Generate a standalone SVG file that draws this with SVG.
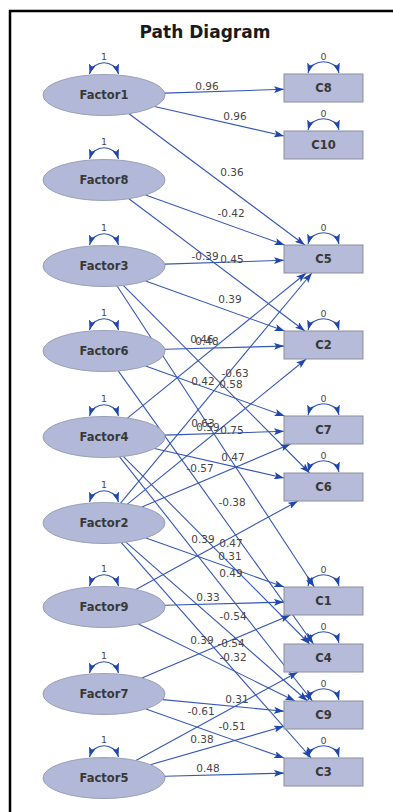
<svg xmlns="http://www.w3.org/2000/svg" width="393" height="812" viewBox="0 0 393 812">
  <style>
    .bg { fill: #ffffff; }
    .frame { fill: none; stroke: #000; stroke-width: 2.5; }
    .title { font-family: "DejaVu Sans", "Liberation Sans", sans-serif; font-weight: bold; font-size: 17px; fill: #1a1a1a; text-anchor: middle; }
    .latent { fill: #b2b8d7; stroke: #9aa0b8; stroke-width: 1; }
    .manifest { fill: #b5bbd8; stroke: #8e8f9c; stroke-width: 1; }
    .nlabel { font-family: "DejaVu Sans", "Liberation Sans", sans-serif; font-weight: bold; font-size: 11.5px; fill: #383838; text-anchor: middle; }
    .loop { fill: none; stroke: #2f55b0; stroke-width: 1.1; marker-start: url(#headStart); marker-end: url(#head); }
    .var { font-family: "DejaVu Sans", "Liberation Sans", sans-serif; font-size: 9.5px; fill: #4a4a4a; text-anchor: middle; }
    .path { fill: none; stroke: #3557b5; stroke-width: 1.1; marker-end: url(#head); }
    .coef { font-family: "DejaVu Sans", "Liberation Sans", sans-serif; font-size: 10.5px; fill: #454545; text-anchor: middle; }
  </style>
  <defs>
    <marker id="head" viewBox="0 0 10 7" refX="10" refY="3.5" markerWidth="10" markerHeight="7" markerUnits="userSpaceOnUse" orient="auto">
      <path d="M0,0 L10,3.5 L0,7 L2.2,3.5 z" fill="#1f46ad"/>
    </marker>
    <marker id="headStart" viewBox="0 0 10 7" refX="10" refY="3.5" markerWidth="10" markerHeight="7" markerUnits="userSpaceOnUse" orient="auto-start-reverse">
      <path d="M0,0 L10,3.5 L0,7 L2.2,3.5 z" fill="#1f46ad"/>
    </marker>
  </defs>

  <rect class="bg" x="0" y="0" width="393" height="812"/>
  <path class="frame" d="M10,812 V11 H393"/>
  <text class="title" x="205" y="38">Path Diagram</text>

  <!-- regression paths from factors to indicators -->
  <g id="connectors">
    <line class="path" x1="164.7" y1="93.1" x2="284" y2="89.3"/>
    <line class="path" x1="154.5" y1="106.5" x2="284" y2="136"/>
    <line class="path" x1="129" y1="113.7" x2="304.8" y2="245"/>
    <line class="path" x1="145.6" y1="195" x2="284.6" y2="245"/>
    <line class="path" x1="128.9" y1="198.7" x2="304.9" y2="331"/>
    <line class="path" x1="164.7" y1="264.1" x2="284" y2="260.3"/>
    <line class="path" x1="145.6" y1="281" x2="284.6" y2="331"/>
    <line class="path" x1="123.3" y1="285.4" x2="309.6" y2="473"/>
    <line class="path" x1="117.1" y1="286" x2="314.3" y2="587"/>
    <line class="path" x1="164.8" y1="349.3" x2="284" y2="346.1"/>
    <line class="path" x1="145.6" y1="366" x2="284.6" y2="416"/>
    <line class="path" x1="118.2" y1="370.9" x2="313.5" y2="644"/>
    <line class="path" x1="127.4" y1="418.1" x2="306.2" y2="273"/>
    <line class="path" x1="164.7" y1="435.1" x2="284" y2="431.3"/>
    <line class="path" x1="154.5" y1="448.5" x2="284" y2="478"/>
    <line class="path" x1="123.3" y1="456.4" x2="309.6" y2="644"/>
    <line class="path" x1="119.6" y1="456.8" x2="312.4" y2="701"/>
    <line class="path" x1="120.4" y1="503.3" x2="311.9" y2="273"/>
    <line class="path" x1="127.4" y1="504.1" x2="306.2" y2="359"/>
    <line class="path" x1="141.9" y1="506.9" x2="290.5" y2="444"/>
    <line class="path" x1="145.9" y1="537.9" x2="284.1" y2="587"/>
    <line class="path" x1="125.9" y1="542.1" x2="307.5" y2="701"/>
    <line class="path" x1="121.3" y1="542.7" x2="311.2" y2="758"/>
    <line class="path" x1="135.9" y1="589.5" x2="297.9" y2="501"/>
    <line class="path" x1="164.8" y1="605.3" x2="284" y2="602.1"/>
    <line class="path" x1="138.4" y1="623.9" x2="295.1" y2="701"/>
    <line class="path" x1="141.9" y1="677.9" x2="290.5" y2="615"/>
    <line class="path" x1="162.7" y1="699.6" x2="284" y2="711.2"/>
    <line class="path" x1="145.9" y1="708.9" x2="284.1" y2="758"/>
    <line class="path" x1="135.9" y1="760.5" x2="297.9" y2="672"/>
    <line class="path" x1="150.4" y1="764.7" x2="284" y2="726.3"/>
    <line class="path" x1="164.8" y1="776.3" x2="284" y2="773.1"/>
  </g>

  <!-- path coefficients -->
  <g id="coefficients">
    <text class="coef" x="207" y="90">0.96</text>
    <text class="coef" x="235" y="120">0.96</text>
    <text class="coef" x="232" y="176">0.36</text>
    <text class="coef" x="231" y="217">-0.42</text>
    <text class="coef" x="205" y="260">-0.39</text>
    <text class="coef" x="232" y="263">0.45</text>
    <text class="coef" x="230" y="303">0.39</text>
    <text class="coef" x="202" y="343">0.46</text>
    <text class="coef" x="207" y="345">0.48</text>
    <text class="coef" x="235" y="377">-0.63</text>
    <text class="coef" x="203" y="385">0.42</text>
    <text class="coef" x="231" y="388">0.58</text>
    <text class="coef" x="203" y="427">0.63</text>
    <text class="coef" x="208" y="431">0.59</text>
    <text class="coef" x="232" y="434">0.75</text>
    <text class="coef" x="233" y="461">0.47</text>
    <text class="coef" x="200" y="472">-0.57</text>
    <text class="coef" x="232" y="506">-0.38</text>
    <text class="coef" x="203" y="543">0.39</text>
    <text class="coef" x="231" y="547">0.47</text>
    <text class="coef" x="230" y="560">0.31</text>
    <text class="coef" x="231" y="577">0.49</text>
    <text class="coef" x="208" y="601">0.33</text>
    <text class="coef" x="233" y="620">-0.54</text>
    <text class="coef" x="202" y="644">0.39</text>
    <text class="coef" x="231" y="647">-0.54</text>
    <text class="coef" x="233" y="661">-0.32</text>
    <text class="coef" x="237" y="703">0.31</text>
    <text class="coef" x="201" y="715">-0.61</text>
    <text class="coef" x="232" y="730">-0.51</text>
    <text class="coef" x="202" y="743">0.38</text>
    <text class="coef" x="208" y="772">0.48</text>
  </g>

  <!-- latent factors -->
  <g id="Factor1">
    <ellipse class="latent" cx="104" cy="95" rx="61" ry="20.5"/>
    <text class="nlabel" x="104" y="99">Factor1</text>
    <path class="loop" d="M89.5,74 C94,59 114,59 118.5,74"/>
    <text class="var" x="104" y="60">1</text>
  </g>
  <g id="Factor8">
    <ellipse class="latent" cx="104" cy="180" rx="61" ry="20.5"/>
    <text class="nlabel" x="104" y="184">Factor8</text>
    <path class="loop" d="M89.5,159 C94,144 114,144 118.5,159"/>
    <text class="var" x="104" y="145">1</text>
  </g>
  <g id="Factor3">
    <ellipse class="latent" cx="104" cy="266" rx="61" ry="20.5"/>
    <text class="nlabel" x="104" y="270">Factor3</text>
    <path class="loop" d="M89.5,245 C94,230 114,230 118.5,245"/>
    <text class="var" x="104" y="231">1</text>
  </g>
  <g id="Factor6">
    <ellipse class="latent" cx="104" cy="351" rx="61" ry="20.5"/>
    <text class="nlabel" x="104" y="355">Factor6</text>
    <path class="loop" d="M89.5,330 C94,315 114,315 118.5,330"/>
    <text class="var" x="104" y="316">1</text>
  </g>
  <g id="Factor4">
    <ellipse class="latent" cx="104" cy="437" rx="61" ry="20.5"/>
    <text class="nlabel" x="104" y="441">Factor4</text>
    <path class="loop" d="M89.5,416 C94,401 114,401 118.5,416"/>
    <text class="var" x="104" y="402">1</text>
  </g>
  <g id="Factor2">
    <ellipse class="latent" cx="104" cy="523" rx="61" ry="20.5"/>
    <text class="nlabel" x="104" y="527">Factor2</text>
    <path class="loop" d="M89.5,502 C94,487 114,487 118.5,502"/>
    <text class="var" x="104" y="488">1</text>
  </g>
  <g id="Factor9">
    <ellipse class="latent" cx="104" cy="607" rx="61" ry="20.5"/>
    <text class="nlabel" x="104" y="611">Factor9</text>
    <path class="loop" d="M89.5,586 C94,571 114,571 118.5,586"/>
    <text class="var" x="104" y="572">1</text>
  </g>
  <g id="Factor7">
    <ellipse class="latent" cx="104" cy="694" rx="61" ry="20.5"/>
    <text class="nlabel" x="104" y="698">Factor7</text>
    <path class="loop" d="M89.5,673 C94,658 114,658 118.5,673"/>
    <text class="var" x="104" y="659">1</text>
  </g>
  <g id="Factor5">
    <ellipse class="latent" cx="104" cy="778" rx="61" ry="20.5"/>
    <text class="nlabel" x="104" y="782">Factor5</text>
    <path class="loop" d="M89.5,757 C94,742 114,742 118.5,757"/>
    <text class="var" x="104" y="743">1</text>
  </g>

  <!-- observed indicators -->
  <g id="C8">
    <rect class="manifest" x="284" y="74" width="79" height="28"/>
    <text class="nlabel" x="323.5" y="92">C8</text>
    <path class="loop" d="M308,73 C312,58 335,58 339,73"/>
    <text class="var" x="323.5" y="60">0</text>
  </g>
  <g id="C10">
    <rect class="manifest" x="284" y="131" width="79" height="28"/>
    <text class="nlabel" x="323.5" y="149">C10</text>
    <path class="loop" d="M308,130 C312,115 335,115 339,130"/>
    <text class="var" x="323.5" y="117">0</text>
  </g>
  <g id="C5">
    <rect class="manifest" x="284" y="245" width="79" height="28"/>
    <text class="nlabel" x="323.5" y="263">C5</text>
    <path class="loop" d="M308,244 C312,229 335,229 339,244"/>
    <text class="var" x="323.5" y="231">0</text>
  </g>
  <g id="C2">
    <rect class="manifest" x="284" y="331" width="79" height="28"/>
    <text class="nlabel" x="323.5" y="349">C2</text>
    <path class="loop" d="M308,330 C312,315 335,315 339,330"/>
    <text class="var" x="323.5" y="317">0</text>
  </g>
  <g id="C7">
    <rect class="manifest" x="284" y="416" width="79" height="28"/>
    <text class="nlabel" x="323.5" y="434">C7</text>
    <path class="loop" d="M308,415 C312,400 335,400 339,415"/>
    <text class="var" x="323.5" y="402">0</text>
  </g>
  <g id="C6">
    <rect class="manifest" x="284" y="473" width="79" height="28"/>
    <text class="nlabel" x="323.5" y="491">C6</text>
    <path class="loop" d="M308,472 C312,457 335,457 339,472"/>
    <text class="var" x="323.5" y="459">0</text>
  </g>
  <g id="C1">
    <rect class="manifest" x="284" y="587" width="79" height="28"/>
    <text class="nlabel" x="323.5" y="605">C1</text>
    <path class="loop" d="M308,586 C312,571 335,571 339,586"/>
    <text class="var" x="323.5" y="573">0</text>
  </g>
  <g id="C4">
    <rect class="manifest" x="284" y="644" width="79" height="28"/>
    <text class="nlabel" x="323.5" y="662">C4</text>
    <path class="loop" d="M308,643 C312,628 335,628 339,643"/>
    <text class="var" x="323.5" y="630">0</text>
  </g>
  <g id="C9">
    <rect class="manifest" x="284" y="701" width="79" height="28"/>
    <text class="nlabel" x="323.5" y="719">C9</text>
    <path class="loop" d="M308,700 C312,685 335,685 339,700"/>
    <text class="var" x="323.5" y="687">0</text>
  </g>
  <g id="C3">
    <rect class="manifest" x="284" y="758" width="79" height="28"/>
    <text class="nlabel" x="323.5" y="776">C3</text>
    <path class="loop" d="M308,757 C312,742 335,742 339,757"/>
    <text class="var" x="323.5" y="744">0</text>
  </g>
</svg>
